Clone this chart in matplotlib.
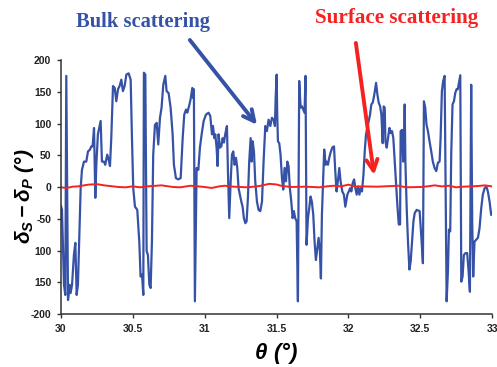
import numpy as np
import matplotlib
matplotlib.use("Agg")
import matplotlib.pyplot as plt

# Bulk scattering trace (theta in deg, phase difference in deg)
bulk_theta = [30.000, 30.007, 30.021, 30.030, 30.037, 30.049, 30.060, 30.067, 30.077, 30.090,
              30.100, 30.109, 30.118, 30.130, 30.137, 30.146, 30.160, 30.176, 30.188, 30.202,
              30.211, 30.220, 30.230, 30.239, 30.246, 30.257, 30.276, 30.285, 30.299, 30.308,
              30.322, 30.332, 30.341, 30.350, 30.362, 30.374, 30.385, 30.397, 30.408, 30.420,
              30.431, 30.443, 30.455, 30.471, 30.485, 30.494,
              30.503, 30.515, 30.531, 30.545, 30.554, 30.564, 30.573, 30.577, 30.587, 30.596,
              30.605, 30.615, 30.624, 30.633, 30.642, 30.654, 30.666, 30.677, 30.689, 30.700,
              30.712, 30.726, 30.735, 30.749, 30.763, 30.777, 30.786, 30.800, 30.816, 30.833,
              30.847, 30.858, 30.870, 30.879, 30.891, 30.902, 30.914, 30.921, 30.925, 30.932,
              30.944, 30.956, 30.967, 30.979,
              30.993, 31.009, 31.027, 31.039, 31.051, 31.058, 31.067, 31.074, 31.083, 31.090,
              31.097, 31.106, 31.116, 31.125, 31.134, 31.143, 31.155, 31.162, 31.171, 31.181,
              31.190, 31.199, 31.208, 31.218, 31.227, 31.236, 31.245, 31.255, 31.264, 31.273,
              31.283, 31.292, 31.301, 31.310, 31.320, 31.327, 31.334, 31.343, 31.352, 31.364,
              31.375, 31.387, 31.399, 31.410, 31.422, 31.433, 31.445, 31.457, 31.468, 31.480,
              31.489, 31.494, 31.501,
              31.505, 31.510, 31.519, 31.528, 31.538, 31.547, 31.556, 31.566, 31.575, 31.584,
              31.593, 31.603, 31.612, 31.621, 31.630, 31.640, 31.649, 31.658, 31.668, 31.677,
              31.686, 31.695, 31.702, 31.709, 31.719, 31.728, 31.737, 31.746, 31.756, 31.765,
              31.774, 31.784, 31.793, 31.802, 31.809, 31.816, 31.825, 31.832, 31.842, 31.849,
              31.858, 31.867, 31.876, 31.888, 31.900, 31.909, 31.918, 31.927, 31.937, 31.946,
              31.958, 31.969, 31.979,
              31.993, 32.003, 32.012, 32.021, 32.030, 32.040, 32.049, 32.058, 32.068, 32.077,
              32.086, 32.095, 32.105, 32.114, 32.123, 32.132, 32.142, 32.151, 32.160, 32.170,
              32.181, 32.193, 32.202, 32.211, 32.221, 32.230, 32.239, 32.246, 32.253, 32.258,
              32.267, 32.276, 32.286, 32.295, 32.304, 32.313, 32.323, 32.332, 32.341, 32.351,
              32.360, 32.364, 32.374, 32.381, 32.388, 32.392, 32.397, 32.406, 32.415, 32.425,
              32.434, 32.443, 32.453, 32.462, 32.476,
              32.496, 32.507, 32.519, 32.526, 32.535, 32.544, 32.554, 32.565, 32.577, 32.588,
              32.600, 32.612, 32.623, 32.635, 32.642, 32.651, 32.660, 32.670, 32.677, 32.684,
              32.693, 32.700, 32.709, 32.716, 32.725, 32.735, 32.744, 32.753, 32.762, 32.772,
              32.779, 32.786, 32.795, 32.804, 32.816, 32.827, 32.837, 32.846, 32.855, 32.862,
              32.869, 32.878, 32.890, 32.902, 32.913, 32.925, 32.936, 32.948, 32.960, 32.971,
              32.983, 32.994, 33.000]
bulk_delta = [-30, -36, -154, -170, 175, -178, -154, -167, -154, -107,
              -88, -170, -154, -54, -2, 27, 40, 40, 56, 59,
              64, 64, 93, -17, 35, 83, 104, 40, 40, 35,
              51, 43, 33, 77, 159, 156, 135, 154, 159, 169,
              151, 159, 177, 179, 169, 77,
              -2, -31, -36, -86, -141, -138, -170, 180, 177, -101,
              -107, -154, -159, -86, 51, 98, 101, 67, 109, 125,
              161, 175, 151, 148, 125, 83, 35, 14, 12, 14,
              77, 114, 122, 117, 127, 138, 156, 140, 154, -180,
              30, 27, 62, 83,
              104, 114, 117, 112, 83, 96, 77, 83, 62, 33,
              83, 62, 64, 77, 70, 83, 96, 25, -49, 9,
              51, 56, 35, 46, 30, -2, -12, -23, -31, -49,
              -57, -54, -17, 40, 77, 40, 72, 56, 9, -23,
              -36, -38, -23, 40, 96, 88, 106, 96, 109, 106,
              96, 140, 177,
              114, 72, 69, 51, 14, -4, 30, 9, 40, 33,
              -2, -23, -49, -38, -49, -54, -180, 167, 125, 127,
              122, 117, 175, -91, -49, -33, -15, -23, -44, -86,
              -115, -96, -80, -101, -144, -44, 14, 59, 35, 40,
              35, 46, 54, 62, 64, 25, -7, 9, 30, 9,
              -7, -12, -31,
              -12, -7, -2, -7, 6, 12, -2, -12, 1, -12,
              -2, -7, 19, 56, 83, 93, 104, 114, 130, 133,
              146, 164, 146, 133, 127, 114, 69, 127, 125, 72,
              62, 77, 93, 85, 88, 77, 40, 4, -28, -59,
              -59, 88, 90, 40, 67, 130, 40, -33, -86, -130,
              -117, -86, -54, -41, -36,
              -38, -75, -120, 135, 125, 98, 88, 72, 56, 40,
              30, 25, 38, 40, 77, 151, 167, 175, -2, -180,
              -133, -67, -70, 51, 130, 135, 148, 154, 154, 167,
              176, -149, -141, -107, -104, -104, -133, -165, 161, -54,
              -141, -86, -83, -80, -65, -33, -12, -2, 1, -7,
              -23, -44, -40]

# Surface scattering trace
surf_theta = [30.00, 30.04, 30.08, 30.12, 30.19, 30.25, 30.30, 30.40, 30.45, 30.50,
              30.55, 30.60, 30.70, 30.78, 30.83, 30.90, 30.98, 31.05, 31.10, 31.14,
              31.20, 31.30, 31.38, 31.45, 31.50, 31.53, 31.60, 31.70, 31.80, 31.85,
              31.90, 31.95, 32.00, 32.05, 32.10, 32.20, 32.30, 32.35, 32.40, 32.50,
              32.55, 32.60, 32.65, 32.70, 32.75, 32.80, 32.90, 32.95, 33.00]
surf_delta = [-0.5, -1.5, 0.5, 1.0, 3.7, 4.5, 2.6, 0.0, -0.5, 1.0,
              -0.5, 1.0, 2.6, 0.0, -0.5, 2.0, 0.5, -1.5, 1.0, 2.0,
              0.5, -0.5, 1.5, 5.0, 4.0, 2.0, 0.0, 0.5, -0.5, 1.0,
              2.0, 1.0, 3.7, 0.5, 1.0, 0.5, 1.5, 2.0, -0.5, 0.0,
              1.0, 2.6, 1.0, 2.0, -0.5, 0.5, 1.5, 2.6, 1.0]

x_ticks = [30, 30.5, 31, 31.5, 32, 32.5, 33]
x_ticklabels = ['30', '30.5', '31', '31.5', '32', '32.5', '33']
y_ticks = [-200, -150, -100, -50, 0, 50, 100, 150, 200]
y_ticklabels = ['-200', '150', '100', '-50', '0', '50', '100', '150', '200']

blue = '#3652a6'
red = '#f52222'

plt.rcParams['mathtext.fontset'] = 'custom'
plt.rcParams['mathtext.it'] = 'Liberation Sans:bold:italic'
plt.rcParams['mathtext.rm'] = 'Liberation Sans:bold:italic'
plt.rcParams['mathtext.bf'] = 'Liberation Sans:bold'

fig = plt.figure(figsize=(4.97, 3.67), dpi=100)
ax = fig.add_axes([0.1227, 0.1444, 0.8673, 0.6921])

ax.plot(bulk_theta, bulk_delta, color=blue, lw=1.6)
ax.plot(surf_theta, surf_delta, color=red, lw=1.4)

ax.set_xlim(30, 33)
ax.set_ylim(-200, 200)
ax.set_xticks(x_ticks)
ax.set_xticklabels(x_ticklabels)
ax.set_yticks(y_ticks)
ax.set_yticklabels(y_ticklabels)
for lab in ax.get_xticklabels() + ax.get_yticklabels():
    lab.set_fontfamily('Liberation Sans')
    lab.set_fontweight('bold')
    lab.set_fontsize(7.5)
    lab.set_color('#222222')

ax.spines['top'].set_visible(False)
ax.spines['right'].set_visible(False)
for s in ['left', 'bottom']:
    ax.spines[s].set_color('#333333')
    ax.spines[s].set_linewidth(1.1)
ax.tick_params(direction='out', length=3, width=1, color='#333333', pad=4)

ax.set_ylabel(r'$\delta_S-\delta_P\ (°)$', fontsize=15, va='center')
ax.yaxis.set_label_coords(-0.084, 0.465)
ax.set_xlabel(r'$\theta\ (°)$', fontsize=16, va='center')
ax.xaxis.set_label_coords(0.5, -0.155)

# Annotations
fig.text(0.288, 0.94, 'Bulk scattering', family='Liberation Serif', weight='bold',
         fontsize=14.8, color=blue, ha='center', va='center')
fig.text(0.799, 0.95, 'Surface scattering', family='Liberation Serif', weight='bold',
         fontsize=15.2, color=red, ha='center', va='center')
ax.annotate('', xy=(31.364, 98), xytext=(0.382, 0.891), textcoords='figure fraction',
            arrowprops=dict(arrowstyle='->', lw=2.8, color=blue, mutation_scale=20,
                            shrinkA=0, shrinkB=0))
ax.annotate('', xy=(32.179, 19), xytext=(0.716, 0.883), textcoords='figure fraction',
            arrowprops=dict(arrowstyle='->', lw=2.8, color=red, mutation_scale=20,
                            shrinkA=0, shrinkB=0))

fig.savefig('out.png', dpi=100)
